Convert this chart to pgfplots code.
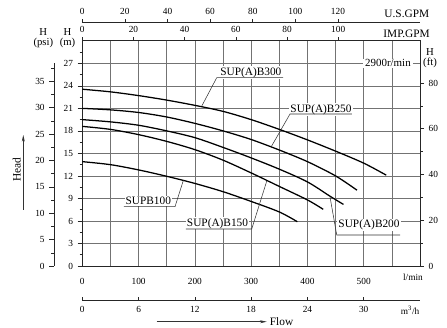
\documentclass[border=0pt]{standalone}
\usepackage{fontspec}
\setmainfont{Liberation Serif}
\usepackage{pgfplots}
\pgfplotsset{compat=1.18}
\usetikzlibrary{arrows.meta}

\definecolor{gridc}{gray}{0.45}
\newcommand{\W}{253.3pt}
\newcommand{\HH}{168.9pt}

\pgfplotsset{
  base/.style={scale only axis, width=\W,
    /pgf/number format/assume math mode=true,
    ticklabel style={font=\fontsize{7}{8}\selectfont},
    tick style={black!85, line width=0.4pt},
    axis line style={black!85, line width=0.5pt}},
}
\tikzset{
  lbl/.style={fill=white, inner sep=0.8pt, font=\fontsize{8.5}{9}\selectfont},
  lead/.style={black!80, line width=0.4pt},
  curve/.style={black, line width=0.95pt, smooth},
}

\begin{document}
\begin{tikzpicture}
\useasboundingbox (-61.725pt,-46.5pt) rectangle (273.525pt,199.5pt);

% ---------- main axis (l/min vs m) ----------
\begin{axis}[base, at={(0,0)}, anchor=south west, height=\HH,
  xmin=0, xmax=600, ymin=0, ymax=30,
  xtick={0,100,...,500}, minor xtick={50,150,...,550},
  ytick={0,3,...,27}, minor ytick={1.5,4.5,...,28.5},
  xmajorgrids, xminorgrids, ymajorgrids,
  grid style={gridc, line width=0.45pt},
  minor grid style={gridc, line width=0.45pt},
  xtick pos=bottom, ytick pos=left, tick align=outside,
  xtick style={draw=none},
  major tick length=3.5pt, minor tick length=2pt,
  xticklabel style={yshift=-2.5pt},
  clip=false]
\addplot[curve] coordinates {(0,23.55) (50,23.2) (100,22.7) (150,22.1) (200,21.4) (250,20.6) (300,19.5) (350,18.2) (400,16.8) (450,15.3) (500,13.7) (540,12.1)};
\addplot[curve] coordinates {(0,21.0) (50,20.8) (100,20.45) (150,19.85) (200,19.0) (250,18.0) (300,16.85) (350,15.45) (400,13.9) (450,12.0) (488,10.1)};
\addplot[curve] coordinates {(0,19.5) (50,19.2) (100,18.75) (150,18.0) (200,17.1) (250,15.8) (300,14.4) (350,12.9) (400,11.2) (440,9.3) (464,8.2)};
\addplot[curve] coordinates {(0,18.6) (50,18.2) (100,17.5) (150,16.6) (200,15.5) (250,14.1) (300,12.4) (350,10.6) (400,8.8) (428,7.55)};
\addplot[curve] coordinates {(0,13.9) (50,13.5) (100,12.8) (150,11.95) (200,11.0) (250,9.9) (300,8.6) (350,7.2) (382,5.9)};

% labels
\node[lbl] at (axis cs:299.4,25.8) {SUP(A)B300};
\draw[lead] (axis cs:212.2,21.3) -- (axis cs:238.8,25.08) -- (axis cs:356.6,25.08);
\node[lbl] at (axis cs:424.1,20.87) {SUP(A)B250};
\draw[lead] (axis cs:336.5,16.0) -- (axis cs:369,20.25) -- (axis cs:479,20.25);
\node[lbl] at (axis cs:117.3,8.7) {SUPB100};
\draw[lead] (axis cs:179.5,11.4) -- (axis cs:164.7,7.9) -- (axis cs:74,7.9);
\node[lbl] at (axis cs:240.2,5.69) {SUP(A)B150};
\draw[lead] (axis cs:327.6,11.3) -- (axis cs:301,4.93) -- (axis cs:184,4.93);
\node[lbl] at (axis cs:509.4,5.46) {SUP(A)B200};
\draw[lead] (axis cs:440.1,9.2) -- (axis cs:452,4.13) -- (axis cs:564.5,4.13);
\node[lbl, font=\fontsize{8.2}{9}\selectfont, inner xsep=1.5pt] at (axis cs:543,27) {2900r/min};
\node[font=\fontsize{7}{8}\selectfont, yshift=-8.25pt] at (axis cs:587.5,0) {l/min};
\end{axis}

% ---------- ft axis (right) ----------
\begin{axis}[base, at={(0,0)}, anchor=south west, height=\HH,
  xmin=0, xmax=600, ymin=0, ymax=98.425,
  axis y line*=right, hide x axis,
  ytick={0,20,...,80}, minor ytick={10,30,50,70},
  tick align=outside, major tick length=3pt, minor tick length=2pt]
\end{axis}

% ---------- psi axis (left) ----------
\begin{axis}[base, width=20pt, height=152pt, at={(-21.2pt,0)}, anchor=south west,
  xmin=0, xmax=1, ymin=0, ymax=38.4,
  axis y line*=left, hide x axis,
  ytick={0,5,...,35}, minor ytick={2.5,7.5,...,37.5},
  tick align=outside, major tick length=3.5pt, minor tick length=2pt]
\end{axis}

% ---------- IMP GPM axis (top of plot) ----------
\begin{axis}[base, at={(0,0)}, anchor=south west, height=\HH,
  xmin=0, xmax=131.98, ymin=0, ymax=1,
  axis x line*=top, hide y axis,
  xtick={0,20,...,100}, tick align=outside, major tick length=2.5pt]
\end{axis}

% ---------- US GPM axis ----------
\begin{axis}[base, height=10pt, at={(0,183pt)}, anchor=north west,
  xmin=0, xmax=158.5, ymin=0, ymax=1,
  axis x line*=top, hide y axis,
  xtick={0,20,...,120}, tick align=outside, major tick length=2pt]
\end{axis}

% ---------- m3/h axis ----------
\begin{axis}[base, height=10pt, at={(0,-25.5pt)}, anchor=south west,
  xmin=0, xmax=36, ymin=0, ymax=1,
  axis x line*=bottom, hide y axis,
  xtick={0,6,...,30}, tick align=inside, major tick length=2.5pt,
  xticklabel style={yshift=-1.5pt}]
\end{axis}

% ---------- unit labels ----------
\node[font=\fontsize{7}{8}\selectfont] at (245.8pt,-33pt) {m\textsuperscript{3}/h};
\node[font=\fontsize{8.5}{9}\selectfont] at (243.4pt,189.5pt) {U.S.GPM};
\node[font=\fontsize{8.5}{9}\selectfont] at (243.2pt,174.5pt) {IMP.GPM};
\node[font=\fontsize{8}{7.5}\selectfont, align=center, inner sep=0pt] at (-29.25pt,170.75pt) {H\\(psi)};
\node[font=\fontsize{8}{7.5}\selectfont, align=center, inner sep=0pt] at (-11.1pt,170.75pt) {H\\(m)};
\node[font=\fontsize{8}{7.5}\selectfont, align=center, inner sep=0pt] at (260.8pt,155.8pt) {H\\(ft)};

% Head / Flow
\node[font=\fontsize{8.5}{9}\selectfont, rotate=90] at (-49.2pt,72pt) {Head};
\draw[black!80, line width=0.45pt, -{Stealth[length=5pt,width=2.2pt]}] (-44.25pt,42pt) -- (-44.25pt,98.25pt);
\draw[black!80, line width=0.45pt, -{Stealth[length=5pt,width=2.2pt]}] (55.8pt,-41.8pt) -- (138.3pt,-41.8pt);
\node[font=\fontsize{8.5}{9}\selectfont, anchor=west, inner sep=1pt] at (139.5pt,-41.8pt) {Flow};
\end{tikzpicture}
\end{document}
